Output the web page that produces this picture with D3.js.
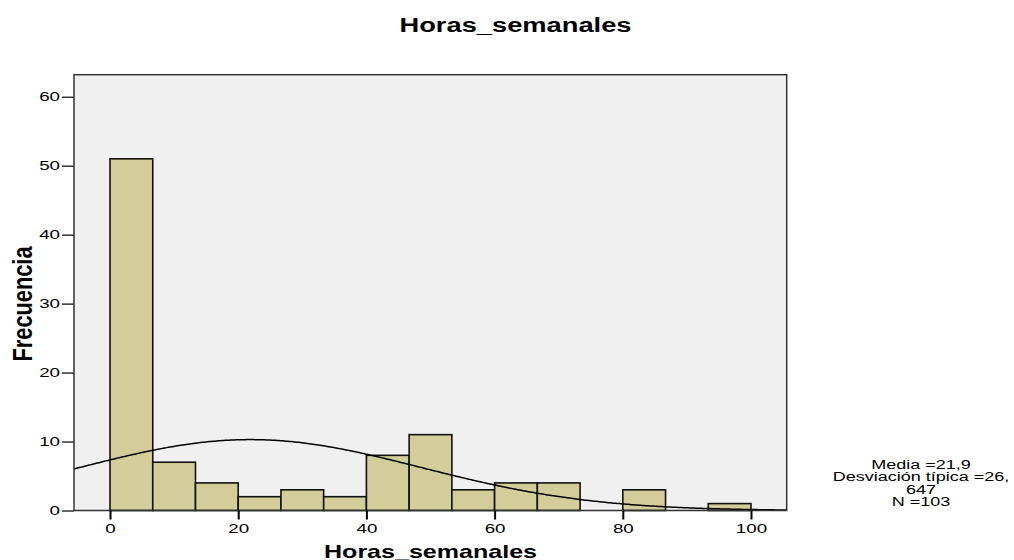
<!DOCTYPE html>
<html>
<head>
<meta charset="utf-8">
<script src="https://cdn.jsdelivr.net/npm/d3@7"></script>
<style>
  html, body { margin: 0; padding: 0; background: #ffffff; }
  svg { display: block; font-family: "Liberation Sans", Arial, sans-serif; }
</style>
</head>
<body>
<svg id="chart" width="1014" height="560"></svg>
<script>
// ---- data ----
const chartTitle = "Horas_semanales";
const xTitle = "Horas_semanales";
const yTitle = "Frecuencia";
const binLow  = [0, 6.667, 13.333, 20, 26.667, 33.333, 40, 46.667, 53.333, 60, 66.667, 73.333, 80, 86.667, 93.333];
const binHigh = [6.667, 13.333, 20, 26.667, 33.333, 40, 46.667, 53.333, 60, 66.667, 73.333, 80, 86.667, 93.333, 100];
const counts  = [51, 7, 4, 2, 3, 2, 8, 11, 3, 4, 4, 0, 3, 0, 1];
const xTicks = [0, 20, 40, 60, 80, 100];
const yTicks = [0, 10, 20, 30, 40, 50, 60];
const stats = { mean: 21.9, sd: 26.647, n: 103 };
const legendLines = ["Media =21,9", "Desviación típica =26,", "647", "N =103"];

// ---- layout ----
const svg = d3.select("#chart");
const L = 74, R = 786.7, T = 74.7, B = 510.5;
const SX = 1.5; // horizontal stretch of glyphs

const x = d3.scaleLinear().domain([-5.62, 105.57]).range([L, R]);
const y = d3.scaleLinear().domain([0, 63.2]).range([B, T]);

function stretch(sel, f) {
  sel.each(function () {
    const w = this.getComputedTextLength();
    d3.select(this).attr("textLength", w * (f || SX)).attr("lengthAdjust", "spacingAndGlyphs");
  });
}

// plot background
svg.append("rect").attr("x", L).attr("y", T).attr("width", R - L).attr("height", B - T)
  .attr("fill", "#f0f0f0");

// bars
const bins = counts.map((c, i) => ({ lo: binLow[i], hi: binHigh[i], c }));
svg.append("g").selectAll("rect").data(bins.filter(d => d.c > 0)).join("rect")
  .attr("x", d => x(d.lo)).attr("width", d => x(d.hi) - x(d.lo))
  .attr("y", d => y(d.c)).attr("height", d => y(0) - y(d.c))
  .attr("fill", "#d3ce99").attr("stroke", "#111").attr("stroke-width", 1.6);

// normal curve
const bw = binHigh[0] - binLow[0];
const peak = stats.n * bw / (stats.sd * Math.sqrt(2 * Math.PI));
const curvePts = d3.range(0, 401).map(i => {
  const xv = x.domain()[0] + (x.domain()[1] - x.domain()[0]) * i / 400;
  return [xv, peak * Math.exp(-0.5 * Math.pow((xv - stats.mean) / stats.sd, 2))];
});
svg.append("path").datum(curvePts)
  .attr("d", d3.line().x(d => x(d[0])).y(d => y(d[1])))
  .attr("fill", "none").attr("stroke", "#000").attr("stroke-width", 1.5);

// frame
svg.append("rect").attr("x", L).attr("y", T).attr("width", R - L).attr("height", B - T)
  .attr("fill", "none").attr("stroke", "#333").attr("stroke-width", 1.5);

// y axis
const gy = svg.append("g").attr("transform", `translate(${L},0)`)
  .call(d3.axisLeft(y).tickValues(yTicks).tickSize(12).tickPadding(2).tickFormat(d3.format("d")));
gy.select(".domain").remove();
gy.selectAll(".tick line").attr("stroke", "#333").attr("stroke-width", 1.5);
gy.selectAll(".tick text").attr("font-size", 12.5).attr("fill", "#000")
  .attr("font-family", "Liberation Sans, Arial, sans-serif").call(stretch);

// x axis
const gx = svg.append("g").attr("transform", `translate(0,${B})`)
  .call(d3.axisBottom(x).tickValues(xTicks).tickSize(9).tickPadding(5).tickFormat(d3.format("d")));
gx.select(".domain").remove();
gx.selectAll(".tick line").attr("stroke", "#000").attr("stroke-width", 2);
gx.selectAll(".tick text").attr("font-size", 12.5).attr("fill", "#000")
  .attr("font-family", "Liberation Sans, Arial, sans-serif").call(stretch);

// titles
svg.append("text").attr("x", 515.5).attr("y", 31.7).attr("text-anchor", "middle")
  .attr("font-size", 20).attr("font-weight", "bold").text(chartTitle)
  .attr("textLength", 232).attr("lengthAdjust", "spacingAndGlyphs");

svg.append("text").attr("x", 430.5).attr("y", 557.5).attr("text-anchor", "middle")
  .attr("font-size", 17.7).attr("font-weight", "bold").text(xTitle)
  .attr("textLength", 213).attr("lengthAdjust", "spacingAndGlyphs");

svg.append("text").attr("transform", "translate(31.5,304) scale(1.5,1) rotate(-90)")
  .attr("text-anchor", "middle").attr("font-size", 18.6).attr("font-weight", "bold")
  .text(yTitle).attr("textLength", 115).attr("lengthAdjust", "spacingAndGlyphs");

// stats legend
const legBase = [468.5, 481.2, 493.5, 505.7];
svg.append("g").selectAll("text").data(legendLines).join("text")
  .attr("x", 921).attr("y", (d, i) => legBase[i]).attr("text-anchor", "middle")
  .attr("font-size", 12).attr("fill", "#000").text(d => d).call(stretch);
</script>
</body>
</html>
